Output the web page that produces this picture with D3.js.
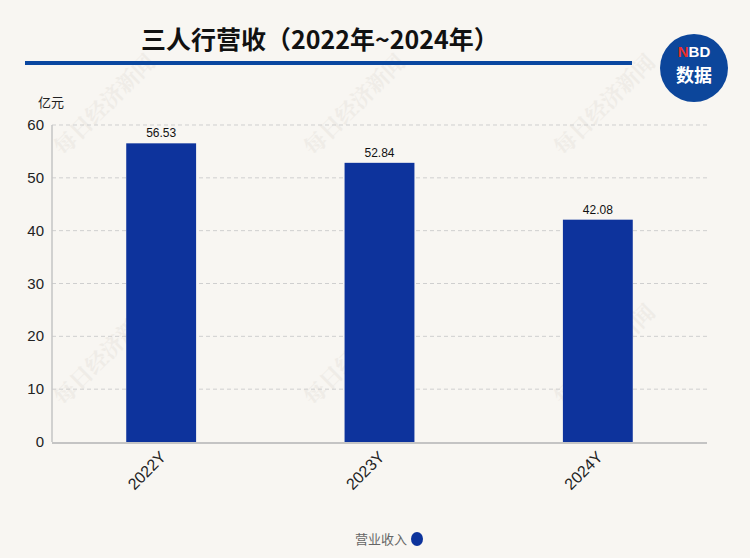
<!DOCTYPE html>
<html lang="zh">
<head>
<meta charset="UTF-8">
<title>三人行营收</title>
<script src="https://d3js.org/d3.v7.min.js"></script>
<style>
    body { margin: 0; background: #f8f6f2; }
    svg { display: block; font-family: 'Noto Sans CJK SC', 'Noto Sans', sans-serif; }
    .grid line { stroke: #cfcfcf; stroke-dasharray: 4,3; }
</style>
</head>
<body>
<svg width="750" height="558"></svg>
<script>
    const years = ["2022Y", "2023Y", "2024Y"];
    const revenue = [56.53, 52.84, 42.08];
    const yTicks = [0, 10, 20, 30, 40, 50, 60];

    const svg = d3.select("svg");
    const plotL = 52, plotR = 707, plotT = 125, plotB = 442;

    svg.append("rect").attr("width", 750).attr("height", 558).attr("fill", "#f8f6f2");

    // watermark
    const wm = [[110, 110], [360, 110], [610, 110], [110, 360], [360, 360], [610, 360]];
    wm.forEach(p => {
        svg.append("text")
            .attr("transform", `translate(${p[0]},${p[1]}) rotate(-45)`)
            .attr("text-anchor", "middle")
            .attr("font-size", 22).attr("font-weight", "bold")
            .attr("font-family", "'Noto Serif CJK SC', 'Noto Sans CJK SC', serif")
            .attr("fill", "#efece7")
            .text("每日经济新闻");
    });

    // title
    svg.append("text").attr("x", 320).attr("y", 49)
        .attr("text-anchor", "middle").attr("font-size", 25).attr("font-weight", "bold")
        .attr("fill", "#111").text("三人行营收（2022年~2024年）");
    svg.append("rect").attr("x", 25).attr("y", 61).attr("width", 607).attr("height", 4).attr("fill", "#0a47a0");

    // logo
    svg.append("circle").attr("cx", 694).attr("cy", 68).attr("r", 34).attr("fill", "#0c469b");
    const nbd = svg.append("text").attr("x", 694).attr("y", 57).attr("text-anchor", "middle")
        .attr("font-size", 15).attr("font-weight", "bold").attr("font-family", "'Liberation Sans', Arial, sans-serif");
    nbd.append("tspan").attr("fill", "#e8302a").text("N");
    nbd.append("tspan").attr("fill", "#fff").text("BD");
    svg.append("text").attr("x", 694).attr("y", 82).attr("text-anchor", "middle")
        .attr("font-size", 18).attr("font-weight", "bold").attr("fill", "#fff").text("数据");

    const x = d3.scaleBand().domain(years).range([plotL, plotR]).padding(0.68).paddingOuter(0.34);
    const y = d3.scaleLinear().domain([0, 60]).range([plotB, plotT]);

    // grid
    svg.append("g").attr("class", "grid")
        .selectAll("line").data(yTicks.filter(d => d > 0)).join("line")
        .attr("x1", plotL).attr("x2", plotR)
        .attr("y1", d => y(d)).attr("y2", d => y(d));

    // y axis
    svg.append("line").attr("x1", plotL).attr("x2", plotL).attr("y1", plotT).attr("y2", plotB)
        .attr("stroke", "#c4c4c4").attr("stroke-width", 1.5);
    svg.append("g").selectAll("text").data(yTicks).join("text")
        .attr("x", 44).attr("y", d => y(d) + 5)
        .attr("text-anchor", "end").attr("font-size", 15).attr("fill", "#222")
        .attr("font-family", "'Liberation Sans', Arial, sans-serif")
        .text(d => d);
    svg.append("text").attr("x", 38).attr("y", 107).attr("font-size", 13).attr("fill", "#222").text("亿元");

    // bars
    svg.append("g").selectAll("rect").data(revenue).join("rect")
        .attr("x", (d, i) => x(years[i]))
        .attr("width", x.bandwidth())
        .attr("y", d => y(d))
        .attr("height", d => y(0) - y(d))
        .attr("fill", "#0d339c");

    svg.append("g").selectAll("text").data(revenue).join("text")
        .attr("x", (d, i) => x(years[i]) + x.bandwidth() / 2)
        .attr("y", d => y(d) - 6)
        .attr("text-anchor", "middle").attr("font-size", 12).attr("fill", "#111")
        .attr("font-family", "'Liberation Sans', Arial, sans-serif")
        .text(d => d.toFixed(2));

    // x axis
    svg.append("line").attr("x1", plotL).attr("x2", plotR).attr("y1", plotB + 1).attr("y2", plotB + 1)
        .attr("stroke", "#c4c4c4").attr("stroke-width", 2);
    svg.append("g").selectAll("text").data(years).join("text")
        .attr("transform", d => `translate(${x(d) + x.bandwidth() / 2 + 6},${plotB + 16}) rotate(-45)`)
        .attr("text-anchor", "end").attr("font-size", 16).attr("fill", "#222")
        .attr("font-family", "'Liberation Sans', Arial, sans-serif")
        .text(d => d);

    // legend
    svg.append("text").attr("x", 407).attr("y", 544).attr("text-anchor", "end")
        .attr("font-size", 13).attr("fill", "#666").text("营业收入");
    svg.append("ellipse").attr("cx", 417).attr("cy", 539).attr("rx", 6).attr("ry", 7).attr("fill", "#0d339c");
</script>
</body>
</html>
